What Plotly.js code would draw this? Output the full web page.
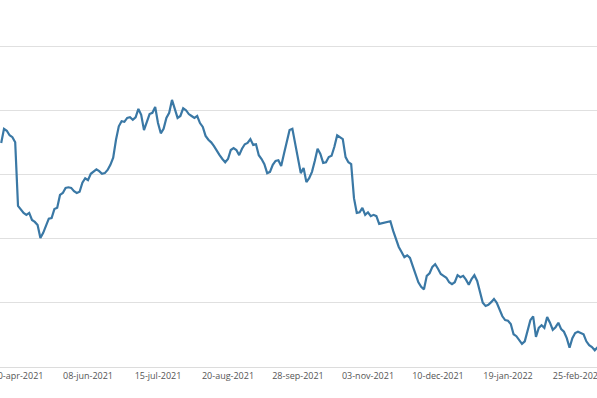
<!DOCTYPE html>
<html>
<head>
<meta charset="utf-8">
<script src="https://cdn.plot.ly/plotly-3.0.1.min.js"></script>
<style>html,body{margin:0;padding:0;background:#fff;}#chart{width:597px;height:398px;}</style>
</head>
<body>
<div id="chart"></div>
<script>
// Tick labels (every 25 trading sessions) and their session index
var tickLabels = ["30-apr-2021","08-jun-2021","15-jul-2021","20-aug-2021","28-sep-2021","03-nov-2021","10-dec-2021","19-jan-2022","25-feb-2022"];
var tickIndex = [6,31,56,81,106,131,156,181,206];

// Series values, one per trading session
var values = [
349,371,368,361,358,350,251,246,240,237,
240,229,226,221,201,209,221,231,232,246,
248,268,271,279,280,279,274,271,273,287,
294,291,301,305,308,305,301,302,307,315,
326,354,375,383,382,388,389,385,389,402,
393,369,383,394,396,405,380,364,371,388,
396,416,402,388,391,403,400,394,391,388,
391,380,374,360,354,350,344,336,330,324,
319,324,338,341,338,330,340,347,349,355,
346,347,330,324,316,302,304,315,321,322,
313,332,349,369,371,349,322,302,310,288,
294,304,321,340,332,318,319,327,329,343,
361,358,355,327,319,316,263,240,241,248,
237,241,235,237,235,223,224,226,226,227,
212,198,187,179,171,174,170,157,143,132,
125,121,142,146,156,160,153,145,142,139,
132,129,132,143,140,142,136,128,137,143,
134,115,100,95,97,101,106,100,89,79,
73,72,67,51,48,42,36,40,59,73,
79,47,61,65,61,78,69,58,62,69,
59,55,45,30,45,53,55,53,51,40,
34,31,26,31
];
var sessions = values.map(function(v, i){ return i; });

var trace = {
  x: sessions,
  y: values,
  type: 'scatter',
  mode: 'lines',
  line: {color: '#3a78a5', width: 2.2},
  hoverinfo: 'skip'
};

var layout = {
  width: 597,
  height: 398,
  margin: {l: 0, r: 0, t: 0, b: 31, pad: 0},
  paper_bgcolor: '#ffffff',
  plot_bgcolor: '#ffffff',
  showlegend: false,
  font: {family: 'Open Sans, sans-serif', size: 9, color: '#555555'},
  xaxis: {
    range: [-0.43, 212.8],
    tickmode: 'array',
    tickvals: tickIndex,
    ticktext: tickLabels,
    ticklabeloverflow: 'allow',
    showgrid: false,
    zeroline: false,
    showline: true,
    linecolor: '#dcdcdc',
    linewidth: 1,
    ticks: '',
    tickfont: {family: 'Open Sans, sans-serif', size: 9, color: '#555555'}
  },
  yaxis: {
    range: [0, 571.7],
    tick0: 0,
    dtick: 100,
    showgrid: true,
    gridcolor: '#e0e0e0',
    gridwidth: 1,
    zeroline: false,
    showline: false,
    showticklabels: false,
    ticks: ''
  }
};

Plotly.newPlot('chart', [trace], layout, {displayModeBar: false, staticPlot: true});
</script>
</body>
</html>
